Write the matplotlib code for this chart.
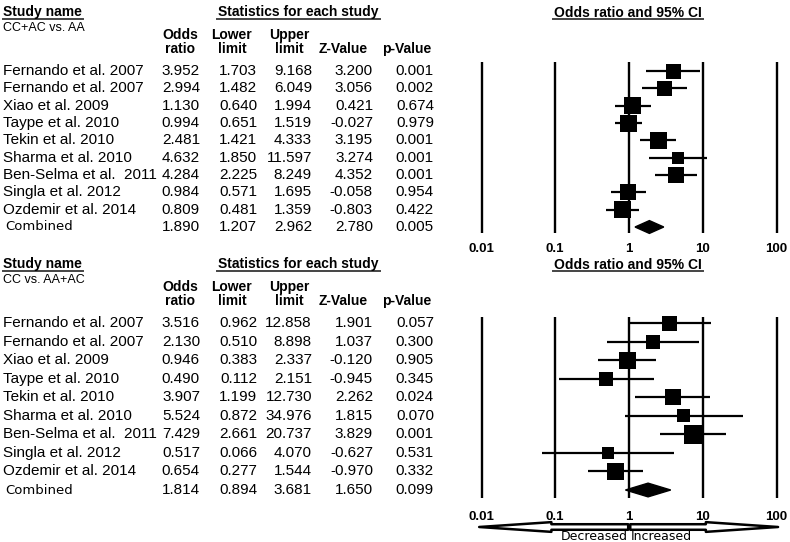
import matplotlib
matplotlib.use("Agg")
import matplotlib.pyplot as plt
import matplotlib.transforms as mtransforms
from matplotlib.patches import Polygon, FancyArrowPatch

# data
studies = ["Fernando et al. 2007", "Fernando et al. 2007", "Xiao et al. 2009",
           "Taype et al. 2010", "Tekin et al. 2010", "Sharma et al. 2010",
           "Ben-Selma et al.  2011", "Singla et al. 2012", "Ozdemir et al. 2014"]

# CC+AC vs. AA
or1 = [3.952, 2.994, 1.130, 0.994, 2.481, 4.632, 4.284, 0.984, 0.809]
lo1 = [1.703, 1.482, 0.640, 0.651, 1.421, 1.850, 2.225, 0.571, 0.481]
hi1 = [9.168, 6.049, 1.994, 1.519, 4.333, 11.597, 8.249, 1.695, 1.359]
z1 = ["3.200", "3.056", "0.421", "-0.027", "3.195", "3.274", "4.352", "-0.058", "-0.803"]
p1 = ["0.001", "0.002", "0.674", "0.979", "0.001", "0.001", "0.001", "0.954", "0.422"]
w1 = [15, 15, 17, 17, 17, 12, 16, 16, 17]
comb1 = [1.890, 1.207, 2.962, "2.780", "0.005"]

# CC vs. AA+AC
or2 = [3.516, 2.130, 0.946, 0.490, 3.907, 5.524, 7.429, 0.517, 0.654]
lo2 = [0.962, 0.510, 0.383, 0.112, 1.199, 0.872, 2.661, 0.066, 0.277]
hi2 = [12.858, 8.898, 2.337, 2.151, 12.730, 34.976, 20.737, 4.070, 1.544]
z2 = ["1.901", "1.037", "-0.120", "-0.945", "2.262", "1.815", "3.829", "-0.627", "-0.970"]
p2 = ["0.057", "0.300", "0.905", "0.345", "0.024", "0.070", "0.001", "0.531", "0.332"]
w2 = [15, 14, 17, 14, 16, 13, 19, 12, 17]
comb2 = [1.814, 0.894, 3.681, "1.650", "0.099"]

ticks = [0.01, 0.1, 1, 10, 100]
tick_labels = ["0.01", "0.1", "1", "10", "100"]

W, H = 790, 542
fig = plt.figure(figsize=(W / 100, H / 100), dpi=100)
bg = fig.add_axes([0, 0, 1, 1])
bg.set_xlim(0, W)
bg.set_ylim(H, 0)
bg.axis("off")

TF = "Liberation Sans"
LX0, LX1 = 10 ** ((470 - 629) / 73.75), 10 ** ((790 - 629) / 73.75)


def forest_axes(ytop, ybot, r0, r9):
    step = (r9 - r0) / 9
    ax = fig.add_axes([470 / W, 1 - ybot / H, 320 / W, (ybot - ytop) / H])
    ax.set_xscale("log")
    ax.set_xlim(LX0, LX1)
    ax.set_ylim(9 + (ybot - r9) / step, -(r0 - ytop) / step)
    ax.patch.set_alpha(0)
    for s in ax.spines.values():
        s.set_visible(False)
    ax.set_yticks([])
    ax.minorticks_off()
    return ax, step


def panel(ax, step, r0, label, ors, los, his, zs, ps, ws, comb, vtop, vbot, hy, pad):
    ya = -(r0 - vtop) / step
    yb = (vbot - r0) / step
    ax.vlines(ticks, ya, yb, color="black", lw=1.7)
    ax.set_xticks(ticks)
    ax.set_xticklabels(tick_labels, fontweight="bold", fontsize=9.5, family=TF)
    ax.tick_params(axis="x", length=0, pad=pad)
    rows = list(range(len(ors)))
    ax.hlines(rows, los, his, color="black", lw=1.6)
    ax.scatter(ors, rows, s=[(0.72 * w) ** 2 for w in ws], marker="s",
               color="black", zorder=3, linewidths=0)
    c_or, c_lo, c_hi = comb[0], comb[1], comb[2]
    h = 0.37
    ax.add_patch(Polygon([(c_lo, 9), (c_or, 9 - h), (c_hi, 9), (c_or, 9 + h)],
                         closed=True, color="black", zorder=3))

    tr = mtransforms.blended_transform_factory(bg.transData, ax.transData)
    for i, name in enumerate(studies):
        bg.text(3, i, name, transform=tr, fontsize=11, family=TF, va="center")
        bg.text(200, i, f"{ors[i]:.3f}", transform=tr, fontsize=11, family=TF, va="center", ha="right")
        bg.text(257, i, f"{los[i]:.3f}", transform=tr, fontsize=11, family=TF, va="center", ha="right")
        bg.text(312, i, f"{his[i]:.3f}", transform=tr, fontsize=11, family=TF, va="center", ha="right")
        bg.text(373, i, zs[i], transform=tr, fontsize=11, family=TF, va="center", ha="right")
        bg.text(434, i, ps[i], transform=tr, fontsize=11, family=TF, va="center", ha="right")
    bg.text(5, 9, "Combined", transform=tr, fontsize=9.5, family="DejaVu Sans", va="center")
    vals = [f"{comb[0]:.3f}", f"{comb[1]:.3f}", f"{comb[2]:.3f}", comb[3], comb[4]]
    for x, v in zip([200, 257, 312, 373, 434], vals):
        bg.text(x, 9, v, transform=tr, fontsize=11, family=TF, va="center", ha="right")

    # headers
    hk = dict(fontsize=10, fontweight="bold", family=TF, va="center")
    bg.text(3, hy, "Study name", **hk)
    bg.text(298, hy, "Statistics for each study", ha="center", **hk)
    bg.text(628, hy + 1, "Odds ratio and 95% CI", ha="center", **hk)
    for x0, x1 in [(3, 83), (217, 380), (553, 703)]:
        bg.plot([x0, x1], [hy + 7, hy + 7], color="#444444", lw=1.4)
    bg.text(3, hy + 16, label, fontsize=9, family=TF, va="center")
    for x, a, b in [(180, "Odds", "ratio"), (232, "Lower", "limit"), (289, "Upper", "limit")]:
        bg.text(x, hy + 23, a, ha="center", **hk)
        bg.text(x, hy + 37, b, ha="center", **hk)
    bg.text(343, hy + 37, "Z-Value", ha="center", **hk)
    bg.text(407, hy + 37, "p-Value", ha="center", **hk)
    return tr


ax1, st1 = forest_axes(55, 240, 71, 227)
panel(ax1, st1, 71, "CC+AC vs. AA", or1, lo1, hi1, z1, p1, w1, comb1, 62, 233, 12, 2.5)

ax2, st2 = forest_axes(305, 505, 323, 490)
panel(ax2, st2, 323, "CC vs. AA+AC", or2, lo2, hi2, z2, p2, w2, comb2, 317, 498, 264, 4)

# direction arrows
ta = mtransforms.blended_transform_factory(ax2.transData, bg.transData)
style = "simple,head_length=5.2,head_width=0.7,tail_width=0.4"
for a, b in [(0.975, 0.0093), (1.04, 105)]:
    arr = FancyArrowPatch(posA=(a, 527), posB=(b, 527), arrowstyle=style, mutation_scale=10,
                          transform=ta, fc="white", ec="black", lw=1.8, shrinkA=0, shrinkB=0)
    bg.add_patch(arr)
bg.text(0.965, 536.5, "Decreased", transform=ta, ha="right", va="center", fontsize=9, family="DejaVu Sans")
bg.text(1.05, 536.5, "Increased", transform=ta, ha="left", va="center", fontsize=9, family="DejaVu Sans")

fig.savefig("out.png", dpi=100)
